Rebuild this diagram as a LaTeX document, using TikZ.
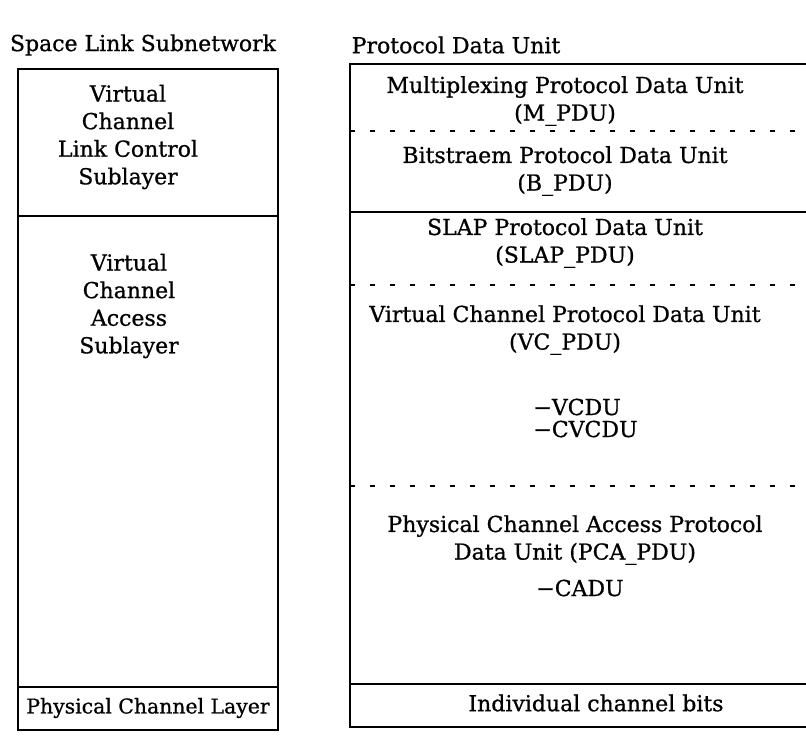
\documentclass[tikz,border=0pt]{standalone}
\usepackage{fontspec}
\setmainfont{DejaVu Serif}[BoldFont=DejaVu Serif,BoldFeatures={FakeBold=0.8}]

\begin{document}
\begin{tikzpicture}[x=0.5pt,y=-0.5pt,
  lbl/.style={align=center,inner sep=0pt,font=\fontsize{11}{13.8}\selectfont\bfseries},
  rule/.style={line width=0.9pt},
  split/.style={line width=0.7pt,dash pattern=on 2.5pt off 7.5pt}]
\useasboundingbox (0,0) rectangle (806,738);
% left column: the space link subnetwork
\node[lbl] (sln) at (143,45) {Space Link Subnetwork};
\draw[rule] (18,69) rectangle (278,730);
\draw[rule] (18,216) -- (278,216);
\draw[rule] (18,687) -- (278,687);
\node[lbl] (vclc) at (128,137) {Virtual\\Channel\\Link Control\\Sublayer};
\node[lbl] (vca) at (129,306) {Virtual\\Channel\\Access\\Sublayer};
\node[lbl,font=\fontsize{10.2}{12}\selectfont\bfseries] (pcl) at (148,708) {Physical Channel Layer};
% right column: the data units, open towards the right
\node[lbl] (pdu) at (456,45) {Protocol Data Unit};
\draw[rule] (806,64) -- (350,64) -- (350,727) -- (806,727);
\draw[split] (350,131) -- (806,131);
\draw[rule] (350,212) -- (806,212);
\draw[split] (350,285) -- (806,285);
\draw[split] (350,486) -- (806,486);
\draw[rule] (350,684) -- (806,684);
\node[lbl] (mpdu) at (565,101) {Multiplexing Protocol Data Unit\\(M\_PDU)};
\node[lbl] (bpdu) at (565,171) {Bitstraem Protocol Data Unit\\(B\_PDU)};
\node[lbl] (slap) at (565,243) {SLAP Protocol Data Unit\\(SLAP\_PDU)};
\node[lbl] (vcpdu) at (565,330) {Virtual Channel Protocol Data Unit\\(VC\_PDU)};
\node[lbl,align=left,anchor=west,font=\fontsize{11}{11}\selectfont\bfseries] (vcdu) at (533,418) {\symbol{"2212}VCDU\\\symbol{"2212}CVCDU};
\node[lbl] (pca) at (575,540) {Physical Channel Access Protocol\\Data Unit (PCA\_PDU)};
\node[lbl] (cadu) at (580,588) {\symbol{"2212}CADU};
\node[lbl] (bits) at (596,703) {Individual channel bits};
\end{tikzpicture}
\end{document}
